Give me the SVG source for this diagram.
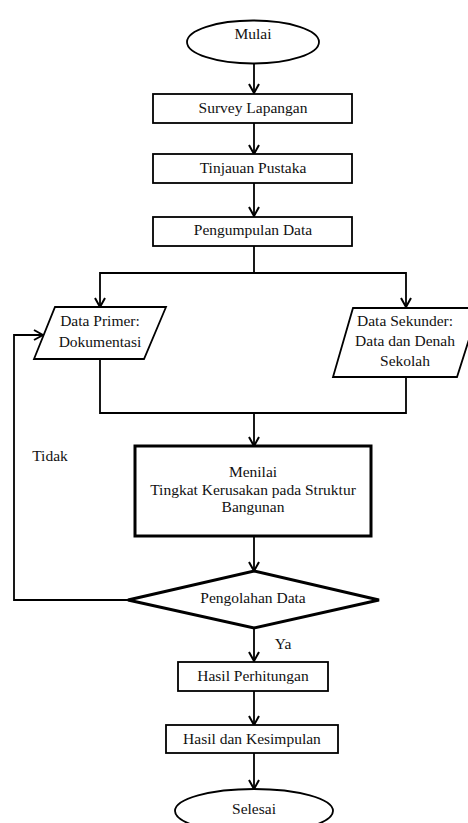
<svg xmlns="http://www.w3.org/2000/svg" width="468" height="823" viewBox="0 0 468 823">
<style>
text{font-family:'Liberation Serif',serif;font-size:15.5px;fill:#111;text-anchor:middle}
.s{fill:#fff;stroke:#000;stroke-width:1.8}
.b{fill:#fff;stroke:#000;stroke-width:3}
.c{fill:none;stroke:#000;stroke-width:1.8}
</style>
<defs>
<marker id="ah" viewBox="0 0 12 12" refX="11" refY="6" markerWidth="12" markerHeight="12" markerUnits="userSpaceOnUse" orient="auto">
<path d="M2,1 L11,6 L2,11" fill="none" stroke="#000" stroke-width="2"/>
</marker>
</defs>
<rect width="468" height="823" fill="#fff"/>
<g font-family="Liberation Serif, serif" font-size="15.5">
<g id="connectors">
<path class="c" d="M254,64 V93" marker-end="url(#ah)"/>
<path class="c" d="M254,123 V154" marker-end="url(#ah)"/>
<path class="c" d="M254,183 V216" marker-end="url(#ah)"/>
<path class="c" d="M254,246 V273 H100 V307" marker-end="url(#ah)"/>
<path class="c" d="M254,273 H406 V307" marker-end="url(#ah)"/>
<path class="c" d="M100,359 V413 H406 V377"/>
<path class="c" d="M254,413 V446" marker-end="url(#ah)"/>
<path class="c" d="M254,536 V571" marker-end="url(#ah)"/>
<path class="c" d="M128,600 H14 V335 H43" marker-end="url(#ah)"/>
<path class="c" d="M254,628 V661" marker-end="url(#ah)"/>
<path class="c" d="M254,691 V725" marker-end="url(#ah)"/>
<path class="c" d="M254,753 V789" marker-end="url(#ah)"/>
<text x="50" y="461">Tidak</text>
<text x="283" y="649">Ya</text>
</g>
<g id="mulai">
<ellipse class="s" cx="253" cy="42" rx="66" ry="21.5"/>
<text x="253" y="39">Mulai</text>
</g>
<g id="survey">
<rect class="s" x="153" y="94" width="199" height="29"/>
<text x="253" y="113">Survey Lapangan</text>
</g>
<g id="tinjauan">
<rect class="s" x="153" y="154" width="199" height="29"/>
<text x="253" y="173">Tinjauan Pustaka</text>
</g>
<g id="pengumpulan">
<rect class="s" x="153" y="217" width="199" height="29"/>
<text x="253" y="235">Pengumpulan Data</text>
</g>
<g id="primer">
<polygon class="s" points="55,307 166,307 144,359 34,359"/>
<text x="100" y="326">Data Primer:</text>
<text x="100" y="347">Dokumentasi</text>
</g>
<g id="sekunder">
<polygon class="s" points="353,308 479,308 457,377 333,377"/>
<text x="405" y="326">Data Sekunder:</text>
<text x="405" y="346">Data dan Denah</text>
<text x="405" y="366">Sekolah</text>
</g>
<g id="menilai">
<rect class="b" x="135" y="446" width="236" height="90"/>
<text x="253" y="477">Menilai</text>
<text x="253" y="495">Tingkat Kerusakan pada Struktur</text>
<text x="253" y="512">Bangunan</text>
</g>
<g id="pengolahan">
<polygon class="b" points="254,571 379,600 254,628 128,600"/>
<text x="253" y="603">Pengolahan Data</text>
</g>
<g id="hasil">
<rect class="s" x="178" y="662" width="150" height="29"/>
<text x="253" y="681">Hasil Perhitungan</text>
</g>
<g id="kesimpulan">
<rect class="s" x="166" y="725" width="172" height="28"/>
<text x="252" y="744">Hasil dan Kesimpulan</text>
</g>
<g id="selesai">
<ellipse class="s" cx="254" cy="811" rx="79" ry="22"/>
<text x="254" y="814">Selesai</text>
</g>
</g>
</svg>
